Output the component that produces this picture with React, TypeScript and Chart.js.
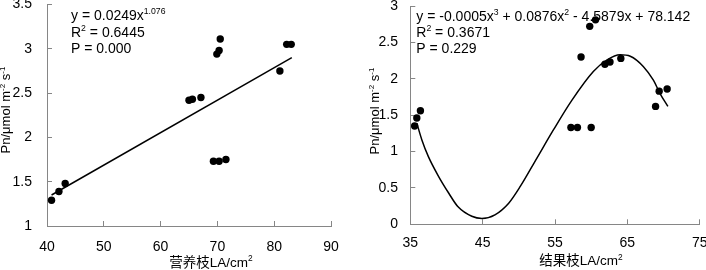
import React, { useEffect, useRef } from 'react';
import { Chart, registerables } from 'chart.js';

Chart.register(...registerables);

// ---------- data: left panel (营养枝) ----------
const vegLA = [40.8, 42.1, 43.2, 65.0, 65.6, 67.1, 69.3, 70.3, 71.5, 69.9, 70.3, 70.5, 81.0, 82.2, 83.0];
const vegPn = [1.29, 1.39, 1.48, 2.42, 2.43, 2.45, 1.73, 1.73, 1.75, 2.94, 2.98, 3.11, 2.75, 3.05, 3.05];
const vegFitLA = [40.8, 83.1];
const vegFitPn = [1.35, 2.9];
const vegXTicks = [40, 50, 60, 70, 80, 90];
const vegYTicks = [1, 1.5, 2, 2.5, 3, 3.5];

// ---------- data: right panel (结果枝) ----------
const fruLA = [35.6, 35.9, 36.4, 57.2, 58.1, 58.6, 59.8, 60.6, 60.0, 61.9, 62.6, 64.1, 68.9, 69.4, 70.5];
const fruPn = [1.35, 1.46, 1.56, 1.33, 1.33, 2.3, 2.72, 2.81, 1.33, 2.2, 2.23, 2.28, 1.62, 1.83, 1.86];
const fruFitLA = [35.9, 36.6, 37.5, 38.9, 40.3, 41.6, 43.5, 44.9, 46.7, 48.6, 50.2, 52.5, 54.8, 57.3, 60.3, 62.2, 64.0, 65.4, 67.2, 68.6, 69.5, 70.6];
const fruFitPn = [1.39, 1.16, 0.93, 0.66, 0.43, 0.24, 0.11, 0.08, 0.13, 0.29, 0.52, 0.91, 1.3, 1.7, 2.1, 2.26, 2.33, 2.31, 2.17, 1.98, 1.8, 1.62];
const fruXTicks = [35, 45, 55, 65, 75];
const fruYTicks = [0, 0.5, 1, 1.5, 2, 2.5, 3];

type Seg = { t: string; sup?: boolean };

const vegAnnot: Seg[][] = [
  [{ t: 'y = 0.0249x' }, { t: '1.076', sup: true }],
  [{ t: 'R' }, { t: '2', sup: true }, { t: ' = 0.6445' }],
  [{ t: 'P = 0.000' }],
];
const fruAnnot: Seg[][] = [
  [{ t: 'y = -0.0005x' }, { t: '3', sup: true }, { t: ' + 0.0876x' }, { t: '2', sup: true }, { t: ' - 4.5879x + 78.142' }],
  [{ t: 'R' }, { t: '2', sup: true }, { t: ' = 0.3671' }],
  [{ t: 'P = 0.229' }],
];
const yTitle: Seg[] = [{ t: 'Pn/μmol m' }, { t: '-2', sup: true }, { t: ' s' }, { t: '-1', sup: true }];
const vegXTitle: Seg[] = [{ t: '营养枝LA/cm' }, { t: '2', sup: true }];
const fruXTitle: Seg[] = [{ t: '结果枝LA/cm' }, { t: '2', sup: true }];

const FONT = "'Liberation Sans', Arial, sans-serif";
const CJK = "'Liberation Sans', 'Noto Sans CJK SC', sans-serif";
const AXIS = '#868686';

function segWidth(ctx: CanvasRenderingContext2D, segs: Seg[], size: number, fam: string) {
  let w = 0;
  for (const s of segs) {
    ctx.font = `${s.sup ? size * 0.62 : size}px ${fam}`;
    w += ctx.measureText(s.t).width;
  }
  return w;
}
function drawSegs(ctx: CanvasRenderingContext2D, segs: Seg[], x: number, y: number, size: number, fam: string) {
  let cx = x;
  ctx.textBaseline = 'alphabetic';
  ctx.textAlign = 'left';
  for (const s of segs) {
    const fs = s.sup ? size * 0.62 : size;
    ctx.font = `${fs}px ${fam}`;
    ctx.fillText(s.t, cx, s.sup ? y - size * 0.4 : y);
    cx += ctx.measureText(s.t).width;
  }
}

interface Cfg {
  xs: number[]; ys: number[]; fx: number[]; fy: number[];
  xTicks: number[]; yTicks: number[]; smooth: boolean;
  yWidth: number; padRight: number; padTop: number; xHeight: number;
  yLabelPad: number; xLabelPad: number;
  annot: Seg[][]; annotX: number; annotY: number[]; annotSize: number;
  xTitle: Seg[]; xTitleX: number; xTitleY: number;
  yTitleX: number; yTitleY: number;
}

function Panel({ cfg }: { cfg: Cfg }) {
  const ref = useRef<HTMLCanvasElement>(null);
  useEffect(() => {
    const textPlugin = {
      id: 'texts',
      afterDraw(chart: any) {
        const ctx: CanvasRenderingContext2D = chart.ctx;
        ctx.save();
        ctx.fillStyle = '#000';
        cfg.annot.forEach((line, i) => drawSegs(ctx, line, cfg.annotX, cfg.annotY[i], cfg.annotSize, FONT));
        const xw = segWidth(ctx, cfg.xTitle, 13.5, CJK);
        drawSegs(ctx, cfg.xTitle, cfg.xTitleX - xw / 2, cfg.xTitleY, 13.5, CJK);
        const yw = segWidth(ctx, yTitle, 13, FONT);
        ctx.translate(cfg.yTitleX, cfg.yTitleY);
        ctx.rotate(-Math.PI / 2);
        drawSegs(ctx, yTitle, -yw / 2, 0, 13, FONT);
        ctx.restore();
      },
    };
    const tickFont = { family: FONT, size: 14 };
    const fmt = (v: number | string) => String(Number(v));
    const chart = new Chart(ref.current!, {
      type: 'scatter',
      data: {
        datasets: [
          {
            data: cfg.xs.map((x, i) => ({ x, y: cfg.ys[i] })),
            pointRadius: 3.7,
            pointBackgroundColor: '#000',
            pointBorderColor: '#000',
            pointBorderWidth: 0,
            showLine: false,
          },
          {
            data: cfg.fx.map((x, i) => ({ x, y: cfg.fy[i] })),
            showLine: true,
            borderColor: '#000',
            borderWidth: 1.5,
            pointRadius: 0,
            cubicInterpolationMode: cfg.smooth ? 'monotone' : 'default',
            tension: cfg.smooth ? 0.4 : 0,
            fill: false,
          },
        ],
      },
      options: {
        animation: false,
        responsive: false,
        events: [],
        layout: { padding: { left: 0, right: cfg.padRight, top: cfg.padTop, bottom: 0 } },
        plugins: { legend: { display: false }, tooltip: { enabled: false } },
        scales: {
          x: {
            type: 'linear',
            position: 'bottom',
            min: cfg.xTicks[0],
            max: cfg.xTicks[cfg.xTicks.length - 1],
            afterBuildTicks: (s: any) => { s.ticks = cfg.xTicks.map((v) => ({ value: v })); },
            ticks: { font: tickFont, color: '#000', padding: cfg.xLabelPad, maxRotation: 0, minRotation: 0, autoSkip: false, callback: fmt },
            grid: { drawOnChartArea: false, tickLength: -5, color: AXIS, lineWidth: 1 },
            border: { color: AXIS, width: 1 },
            afterFit: (s: any) => { s.height = cfg.xHeight; s.paddingLeft = 0; s.paddingRight = 0; },
          },
          y: {
            type: 'linear',
            position: 'left',
            min: cfg.yTicks[0],
            max: cfg.yTicks[cfg.yTicks.length - 1],
            afterBuildTicks: (s: any) => { s.ticks = cfg.yTicks.map((v) => ({ value: v })); },
            ticks: { font: tickFont, color: '#000', padding: cfg.yLabelPad, autoSkip: false, callback: fmt },
            grid: { drawOnChartArea: false, tickLength: -5, color: AXIS, lineWidth: 1 },
            border: { color: AXIS, width: 1 },
            afterFit: (s: any) => { s.width = cfg.yWidth; s.paddingTop = 0; s.paddingBottom = 0; },
          },
        },
      } as any,
      plugins: [textPlugin],
    });
    return () => chart.destroy();
  }, [cfg]);
  return <canvas ref={ref} width={353} height={270} style={{ display: 'block' }} />;
}

const leftCfg: Cfg = {
  xs: vegLA, ys: vegPn, fx: vegFitLA, fy: vegFitPn, xTicks: vegXTicks, yTicks: vegYTicks, smooth: false,
  yWidth: 47, padRight: 22, padTop: 4.5, xHeight: 44, yLabelPad: 20, xLabelPad: 17.5,
  annot: vegAnnot, annotX: 71, annotY: [20, 37, 53.3], annotSize: 14,
  xTitle: vegXTitle, xTitleX: 211, xTitleY: 266.5, yTitleX: 10, yTitleY: 110,
};
const rightCfg: Cfg = {
  xs: fruLA, ys: fruPn, fx: fruFitLA, fy: fruFitPn, xTicks: fruXTicks, yTicks: fruYTicks, smooth: true,
  yWidth: 57.3, padRight: 6.3, padTop: 6, xHeight: 45.7, yLabelPad: 17.3, xLabelPad: 15,
  annot: fruAnnot, annotX: 63.3, annotY: [20.5, 36.7, 52.7], annotSize: 14,
  xTitle: fruXTitle, xTitleX: 228, xTitleY: 265, yTitleX: 26, yTitleY: 111,
};

export default function App() {
  return (
    <div style={{ position: 'fixed', left: 0, top: 0, width: 706, height: 270, background: '#fff', overflow: 'hidden' }}>
      <div style={{ position: 'absolute', left: 0, top: 0 }}>
        <Panel cfg={leftCfg} />
      </div>
      <div style={{ position: 'absolute', left: 353, top: 0 }}>
        <Panel cfg={rightCfg} />
      </div>
    </div>
  );
}
